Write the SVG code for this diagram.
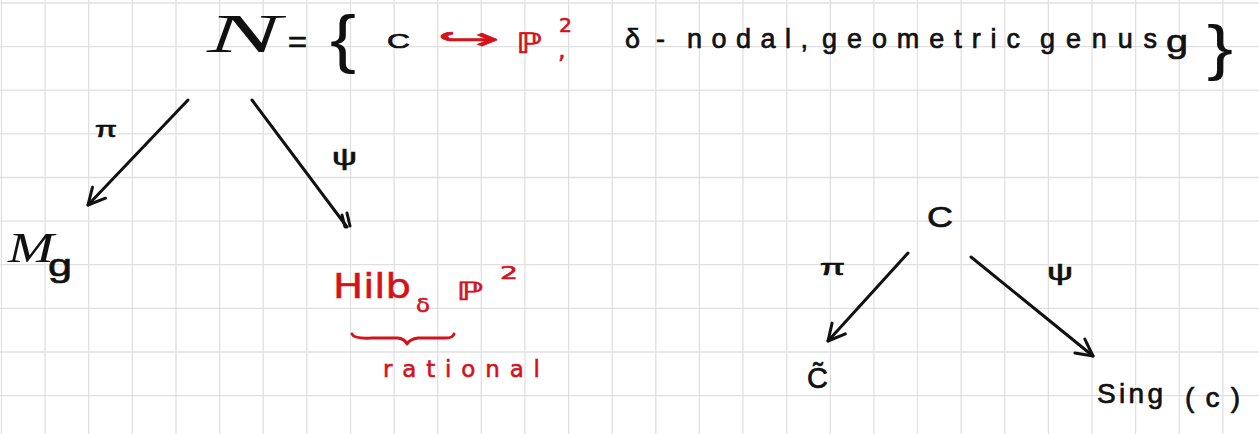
<svg xmlns="http://www.w3.org/2000/svg" width="1259" height="434" viewBox="0 0 1259 434">
  <defs>
    <style>
      .grid line { stroke: #e0e0e0; stroke-width: 1.3; }
      .ink { fill: #111; stroke: #111; stroke-width: 0.7; font-family: "Liberation Sans", "DejaVu Sans", sans-serif; }
      .thin { stroke-width: 0; }
      .red { fill: #d4121b; stroke: #d4121b; stroke-width: 0.6; font-family: "DejaVu Sans", "Liberation Sans", sans-serif; }
      .serif { font-family: "Liberation Serif", "DejaVu Serif", serif; font-style: italic; }
      .conn { fill: none; stroke: #111; stroke-width: 3; stroke-linecap: round; stroke-linejoin: round; }
      .redstroke { fill: none; stroke: #d4121b; stroke-width: 3; stroke-linecap: round; stroke-linejoin: round; }
    </style>
    <marker id="ah" markerUnits="userSpaceOnUse" markerWidth="1" markerHeight="1" refX="0" refY="0" orient="auto" overflow="visible">
      <path d="M-17,-8 L0,0 L-16,9" fill="none" stroke="#111" stroke-width="3" stroke-linecap="round" stroke-linejoin="round"/>
    </marker>
  </defs>

  <rect width="1259" height="434" fill="#ffffff"/>

  <g class="grid" id="grid">
    <line x1="1.5" y1="0" x2="1.5" y2="434"/>
    <line x1="45.1" y1="0" x2="45.1" y2="434"/>
    <line x1="88.7" y1="0" x2="88.7" y2="434"/>
    <line x1="132.4" y1="0" x2="132.4" y2="434"/>
    <line x1="176" y1="0" x2="176" y2="434"/>
    <line x1="219.6" y1="0" x2="219.6" y2="434"/>
    <line x1="263.2" y1="0" x2="263.2" y2="434"/>
    <line x1="306.8" y1="0" x2="306.8" y2="434"/>
    <line x1="350.5" y1="0" x2="350.5" y2="434"/>
    <line x1="394.1" y1="0" x2="394.1" y2="434"/>
    <line x1="437.7" y1="0" x2="437.7" y2="434"/>
    <line x1="481.3" y1="0" x2="481.3" y2="434"/>
    <line x1="524.9" y1="0" x2="524.9" y2="434"/>
    <line x1="568.6" y1="0" x2="568.6" y2="434"/>
    <line x1="612.2" y1="0" x2="612.2" y2="434"/>
    <line x1="655.8" y1="0" x2="655.8" y2="434"/>
    <line x1="699.4" y1="0" x2="699.4" y2="434"/>
    <line x1="743" y1="0" x2="743" y2="434"/>
    <line x1="786.7" y1="0" x2="786.7" y2="434"/>
    <line x1="830.3" y1="0" x2="830.3" y2="434"/>
    <line x1="873.9" y1="0" x2="873.9" y2="434"/>
    <line x1="917.5" y1="0" x2="917.5" y2="434"/>
    <line x1="961.1" y1="0" x2="961.1" y2="434"/>
    <line x1="1004.8" y1="0" x2="1004.8" y2="434"/>
    <line x1="1048.4" y1="0" x2="1048.4" y2="434"/>
    <line x1="1092" y1="0" x2="1092" y2="434"/>
    <line x1="1135.6" y1="0" x2="1135.6" y2="434"/>
    <line x1="1179.2" y1="0" x2="1179.2" y2="434"/>
    <line x1="1222.9" y1="0" x2="1222.9" y2="434"/>
    <line x1="0" y1="3" x2="1259" y2="3"/>
    <line x1="0" y1="46.6" x2="1259" y2="46.6"/>
    <line x1="0" y1="90.2" x2="1259" y2="90.2"/>
    <line x1="0" y1="133.9" x2="1259" y2="133.9"/>
    <line x1="0" y1="177.5" x2="1259" y2="177.5"/>
    <line x1="0" y1="221.1" x2="1259" y2="221.1"/>
    <line x1="0" y1="264.7" x2="1259" y2="264.7"/>
    <line x1="0" y1="308.3" x2="1259" y2="308.3"/>
    <line x1="0" y1="352" x2="1259" y2="352"/>
    <line x1="0" y1="395.6" x2="1259" y2="395.6"/>
  </g>

  <!-- Top set definition -->
  <g id="node-N">
    <text class="ink serif thin" x="207" y="52" font-size="54" textLength="74" lengthAdjust="spacingAndGlyphs">N</text>
    <text class="ink" x="288" y="52" font-size="30" textLength="19" lengthAdjust="spacingAndGlyphs">=</text>
    <text class="ink thin" x="330" y="61" font-size="64" textLength="26" lengthAdjust="spacingAndGlyphs">{</text>
    <text class="ink" x="387" y="48" font-size="21" textLength="23" lengthAdjust="spacingAndGlyphs">C</text>
    <text class="red" x="437" y="49" font-size="30" textLength="63" lengthAdjust="spacingAndGlyphs">↪</text>
    <text class="red" x="516" y="53" font-size="28" textLength="26" lengthAdjust="spacingAndGlyphs">ℙ</text>
    <text class="red" x="559" y="32" font-size="19" textLength="13" lengthAdjust="spacingAndGlyphs">2</text>
    <text class="red" x="558" y="58" font-size="24">,</text>
    <text class="ink" x="625" y="48" font-size="27" textLength="40" lengthAdjust="spacing">δ-</text>
    <text class="ink" x="687" y="48" font-size="27" textLength="121" lengthAdjust="spacing">nodal,</text>
    <text class="ink" x="822" y="48" font-size="27" textLength="198" lengthAdjust="spacing">geometric</text>
    <text class="ink" x="1040" y="48" font-size="27" textLength="117" lengthAdjust="spacing">genus</text>
    <text class="ink" x="1166" y="52" font-size="32" textLength="22" lengthAdjust="spacingAndGlyphs">g</text>
    <text class="ink thin" x="1207" y="68" font-size="62" textLength="26" lengthAdjust="spacingAndGlyphs">}</text>
  </g>

  <g id="node-Mg">
    <text class="ink serif thin" x="8" y="262" font-size="42" textLength="46" lengthAdjust="spacingAndGlyphs">M</text>
    <text class="ink" x="48" y="276" font-size="32" textLength="24" lengthAdjust="spacingAndGlyphs">g</text>
  </g>

  <g id="node-Hilb">
    <text class="red" x="333" y="298" font-size="34" textLength="78" lengthAdjust="spacingAndGlyphs">Hilb</text>
    <text class="red" x="416" y="312" font-size="20" textLength="14" lengthAdjust="spacingAndGlyphs">δ</text>
    <text class="red" x="456" y="300" font-size="25" textLength="27" lengthAdjust="spacingAndGlyphs">ℙ</text>
    <text class="red" x="500" y="279" font-size="18" textLength="18" lengthAdjust="spacingAndGlyphs">2</text>
    <path class="redstroke" d="M352,334 Q354,339 372,338 L398,338 Q405,339 407,344 Q410,339 418,338 L446,338 Q453,338 454,334"/>
    <text class="red" x="383" y="377" font-size="23" textLength="157" lengthAdjust="spacing">rational</text>
  </g>

  <g id="node-C">
    <text class="ink" x="927" y="227" font-size="30" textLength="26" lengthAdjust="spacingAndGlyphs">C</text>
  </g>

  <g id="node-Ctilde">
    <text class="ink" x="807" y="388" font-size="29" font-family="DejaVu Sans">C&#x303;</text>
  </g>

  <g id="node-Sing">
    <text class="ink" x="1097" y="403" font-size="28" textLength="66" lengthAdjust="spacing">Sing</text>
    <text class="ink" x="1185" y="407" font-size="28" textLength="55" lengthAdjust="spacing">(c)</text>
  </g>

  <g id="connectors">
    <path class="conn" d="M188,100 L88,205" marker-end="url(#ah)"/>
    <path class="conn" d="M252,100 L347,227"/>
    <path class="conn" d="M342,215 L345,227 M347,213 L350,226"/>
    <path class="conn" d="M908,253 L828,341" marker-end="url(#ah)"/>
    <path class="conn" d="M971,257 L1093,356" marker-end="url(#ah)"/>
  </g>

  <g id="labels">
    <text class="ink" x="95" y="137" font-size="22" textLength="22" lengthAdjust="spacingAndGlyphs">π</text>
    <text class="ink" x="332" y="165" font-size="24" textLength="25" lengthAdjust="spacingAndGlyphs" font-family="DejaVu Sans">ψ</text>
    <text class="ink" x="820" y="275" font-size="22" textLength="25" lengthAdjust="spacingAndGlyphs">π</text>
    <text class="ink" x="1047" y="280" font-size="24" textLength="26" lengthAdjust="spacingAndGlyphs" font-family="DejaVu Sans">ψ</text>
  </g>
</svg>
